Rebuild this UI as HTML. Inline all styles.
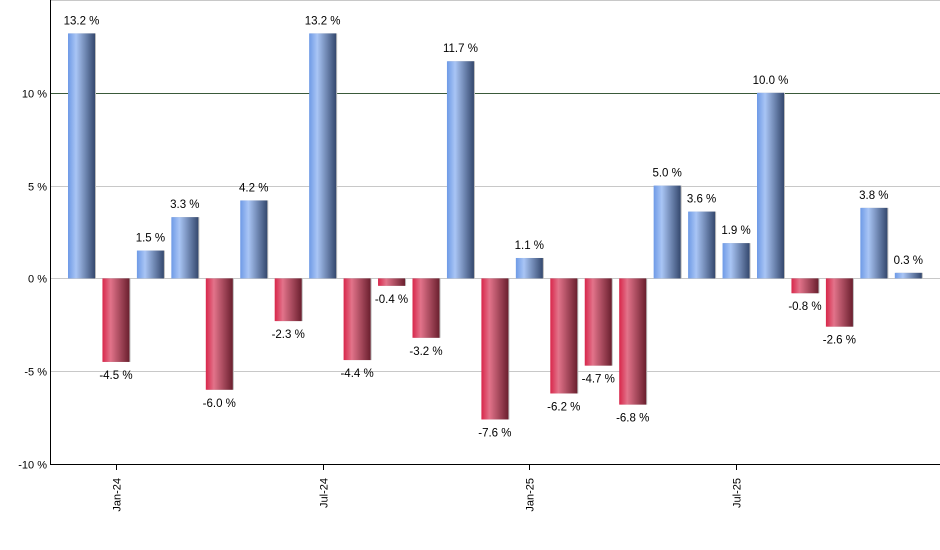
<!DOCTYPE html>
<html><head><meta charset="utf-8"><style>
body{margin:0;background:#fff;font-family:"Liberation Sans",sans-serif}
svg{display:block}
</style></head><body>
<svg width="940" height="550">
<defs>
<linearGradient id="gb" x1="0" x2="1"><stop offset="0" stop-color="#6e9ae6"/><stop offset="0.3" stop-color="#a9c5f5"/><stop offset="1" stop-color="#34486e"/></linearGradient>
<linearGradient id="gr" x1="0" x2="1"><stop offset="0" stop-color="#d8264a"/><stop offset="0.3" stop-color="#e2738a"/><stop offset="1" stop-color="#6a1f2e"/></linearGradient>
</defs>
<g id="grid"></g><g id="bars"></g><g id="labels"></g><g id="axes"></g>
</svg>
<script>
const months=["Dec-23","Jan-24","Feb-24","Mar-24","Apr-24","May-24","Jun-24","Jul-24","Aug-24","Sep-24","Oct-24","Nov-24","Dec-24","Jan-25","Feb-25","Mar-25","Apr-25","May-25","Jun-25","Jul-25","Aug-25","Sep-25","Oct-25","Nov-25","Dec-25"];
const values=[13.2,-4.5,1.5,3.3,-6.0,4.2,-2.3,13.2,-4.4,-0.4,-3.2,11.7,-7.6,1.1,-6.2,-4.7,-6.8,5.0,3.6,1.9,10.0,-0.8,-2.6,3.8,0.3];
const yTicks=[-10,-5,0,5,10];
const xTickLabels=["Jan-24","Jul-24","Jan-25","Jul-25"];
const NS="http://www.w3.org/2000/svg";
const x0=50,x1=940,yTop=0,yBot=464,yMin=-10,yMax=15;
const y=v=>yBot-(v-yMin)/(yMax-yMin)*(yBot-yTop);
const step=34.45,c0=81.5,bw=27;
const x=i=>c0+i*step;
function mk(t,a,p){const e=document.createElementNS(NS,t);for(const k in a)e.setAttribute(k,a[k]);p.appendChild(e);return e;}
const G=document.getElementById('grid'),B=document.getElementById('bars'),L=document.getElementById('labels'),A=document.getElementById('axes');
mk('line',{x1:x0,x2:x1,y1:0.5,y2:0.5,stroke:'#c8c8c8'},G);
yTicks.forEach(t=>{
 const yy=Math.round(y(t))+0.5;
 const ln=mk('line',{x1:x0,x2:x1,y1:yy,y2:yy,stroke:t===10?'#3a5a3a':'#c8c8c8'},G);
 
 
 const tx=mk('text',{x:x0-3,y:yy+4,'text-anchor':'end','font-size':11,fill:'#000'},A);
 tx.textContent=t+' %';
 
 
});
values.forEach((v,i)=>{
 const top=y(Math.max(v,0)),bot=y(Math.min(v,0));
 mk('rect',{x:x(i)-bw/2+1,y:top,width:bw,height:bot-top,fill:'#bbb'},B);
 const r=mk('rect',{x:x(i)-bw/2,y:top,width:bw,height:bot-top,fill:v>=0?'url(#gb)':'url(#gr)'},B);
 
 
 const t=mk('text',{x:x(i),y:v>=0?top-9:bot+17,'text-anchor':'middle','font-size':11.5,fill:'#000'},L);
 t.textContent=v.toFixed(1)+' %';
 
 
});
mk('line',{x1:x0+0.5,x2:x0+0.5,y1:0,y2:yBot,stroke:'#000'},A);
mk('line',{x1:x0,x2:x1,y1:yBot+0.5,y2:yBot+0.5,stroke:'#000'},A);
xTickLabels.forEach(lb=>{
 const i=months.indexOf(lb);const xx=Math.round(x(i))+0.5;
 mk('line',{x1:xx,x2:xx,y1:yBot,y2:yBot+6,stroke:'#000'},A);
 const t=mk('text',{x:0,y:0,'text-anchor':'end','font-size':11,fill:'#000',transform:`translate(${xx+4},${yBot+14}) rotate(-90)`},A);
 t.textContent=lb;
 
 
});
</script>
</body></html>
